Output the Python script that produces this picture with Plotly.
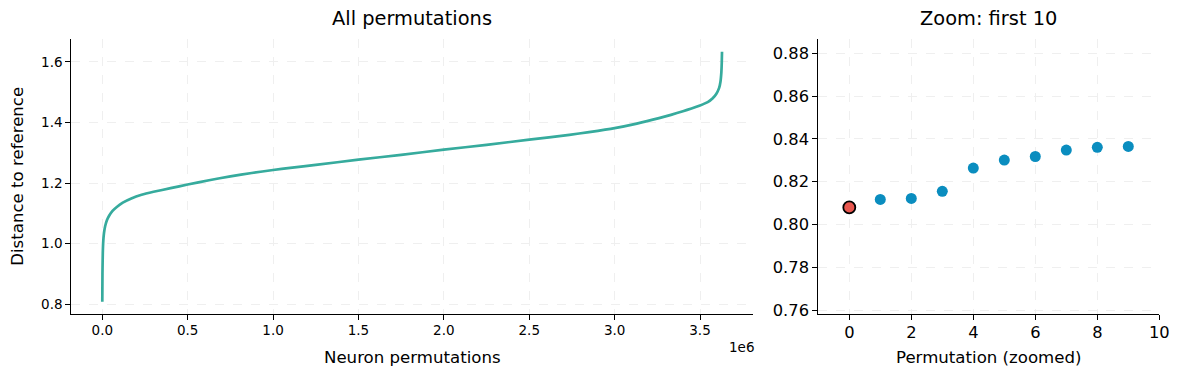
import plotly.graph_objects as go

# ---- data ----
perm_rank = [0, 1000, 3000, 6000, 10000, 17000, 27000, 40000, 60000, 85000, 120000,
             170000, 230000, 300000, 400000, 500000, 625000, 750000, 875000, 1000000,
             1100000, 1250000, 1500000, 1750000, 2000000, 2250000, 2500000, 2735000,
             2850000, 3000000, 3130000, 3260000, 3330000, 3400000, 3450000, 3500000,
             3545000, 3573000, 3595000, 3612000, 3620000, 3625000, 3627500, 3628799]
perm_dist = [0.808, 0.90, 0.97, 1.01, 1.035, 1.058, 1.077, 1.092, 1.108, 1.121, 1.135,
             1.149, 1.161, 1.171, 1.183, 1.195, 1.209, 1.222, 1.233, 1.243,
             1.2497, 1.260, 1.277, 1.293, 1.310, 1.326, 1.343, 1.359,
             1.368, 1.381, 1.396, 1.414, 1.425, 1.437, 1.446, 1.456,
             1.467, 1.479, 1.494, 1.514, 1.535, 1.565, 1.600, 1.633]

zoom_idx = [0, 1, 2, 3, 4, 5, 6, 7, 8, 9]
zoom_dist = [0.808, 0.8117, 0.8122, 0.8155, 0.8264, 0.8301, 0.8318, 0.8348, 0.8361, 0.8365]

left_xticks = [0, 500000, 1000000, 1500000, 2000000, 2500000, 3000000, 3500000]
left_xtick_text = ["0.0", "0.5", "1.0", "1.5", "2.0", "2.5", "3.0", "3.5"]
left_yticks = [0.8, 1.0, 1.2, 1.4, 1.6]
right_xticks = [0, 2, 4, 6, 8, 10]
right_yticks = [0.76, 0.78, 0.80, 0.82, 0.84, 0.86, 0.88]

LINE_C = "#36ab9d"
BLUE_C = "#0a8dbf"
RED_C = "#e8574f"
FONT = "DejaVu Sans"

# page is offset by the default 8px body margin
OFF = 8
W, H = 1178 - 2 * OFF, 378 - 2 * OFF
L_X0, L_X1 = 71.3, 753.0
R_X0, R_X1 = 818.3, 1159.3
Y_TOP, Y_BOT = 39.3, 314.3

def fx(px):
    return (px - OFF) / W

def fy(py):
    return 1 - (py - OFF) / H

fig = go.Figure()
fig.add_trace(go.Scatter(x=perm_rank, y=perm_dist, mode="lines",
                         line=dict(color=LINE_C, width=2.7, shape="spline", smoothing=0.5),
                         xaxis="x", yaxis="y", showlegend=False))
fig.add_trace(go.Scatter(x=zoom_idx[1:], y=zoom_dist[1:], mode="markers",
                         marker=dict(color=BLUE_C, size=11, line=dict(width=0)),
                         xaxis="x2", yaxis="y2", showlegend=False))
fig.add_trace(go.Scatter(x=zoom_idx[:1], y=zoom_dist[:1], mode="markers",
                         marker=dict(color=RED_C, size=12, line=dict(width=1.8, color="black")),
                         xaxis="x2", yaxis="y2", showlegend=False))

axis_common = dict(showline=True, linecolor="black", linewidth=1, ticks="outside",
                   ticklen=5, tickwidth=1, tickcolor="black", zeroline=False,
                   showgrid=True, gridcolor="#efefef", gridwidth=0.8, griddash="dash",
                   mirror=False, automargin=False)

n0 = min(perm_rank); n1 = max(perm_rank)
pad = 0.05 * (n1 - n0)
d0 = min(perm_dist); d1 = max(perm_dist)
dpad = 0.05 * (d1 - d0)

fig.update_layout(
    width=W, height=H,
    margin=dict(l=0, r=0, t=0, b=0),
    paper_bgcolor="white", plot_bgcolor="white",
    font=dict(family=FONT, color="black"),
    xaxis=dict(domain=[fx(L_X0), fx(L_X1)], range=[n0 - pad, n1 + pad],
               tickvals=left_xticks, ticktext=left_xtick_text,
               tickfont=dict(size=13.5), anchor="y", ticklabelstandoff=-2, **axis_common),
    yaxis=dict(domain=[fy(Y_BOT), fy(Y_TOP)], range=[d0 - dpad, d1 + dpad],
               tickvals=left_yticks, tickformat=".1f",
               tickfont=dict(size=13.5), anchor="x", **axis_common),
    xaxis2=dict(domain=[fx(R_X0), fx(R_X1)], range=[-1, 10],
                tickvals=right_xticks, tickfont=dict(size=16.3), anchor="y2",
                ticklabelstandoff=-2, **axis_common),
    yaxis2=dict(domain=[fy(Y_BOT), fy(Y_TOP)], range=[0.758, 0.8866],
                tickvals=right_yticks, tickformat=".2f",
                tickfont=dict(size=16.3), anchor="x2", **axis_common),
    annotations=[
        dict(text="All permutations", x=fx((L_X0 + L_X1) / 2), y=fy(19),
             xref="paper", yref="paper", showarrow=False, font=dict(size=19.4),
             xanchor="center", yanchor="middle"),
        dict(text="Zoom: first 10", x=fx((R_X0 + R_X1) / 2), y=fy(19),
             xref="paper", yref="paper", showarrow=False, font=dict(size=19.4),
             xanchor="center", yanchor="middle"),
        dict(text="Neuron permutations", x=fx((L_X0 + L_X1) / 2), y=fy(357),
             xref="paper", yref="paper", showarrow=False, font=dict(size=16.6),
             xanchor="center", yanchor="middle"),
        dict(text="Permutation (zoomed)", x=fx((R_X0 + R_X1) / 2), y=fy(357),
             xref="paper", yref="paper", showarrow=False, font=dict(size=16.6),
             xanchor="center", yanchor="middle"),
        dict(text="Distance to reference", x=fx(18), y=fy((Y_TOP + Y_BOT) / 2),
             xref="paper", yref="paper", showarrow=False, font=dict(size=16.6),
             textangle=-90, xanchor="center", yanchor="middle"),
        dict(text="1e6", x=fx(L_X1 + 3), y=fy(347),
             xref="paper", yref="paper", showarrow=False, font=dict(size=13.5),
             xanchor="right", yanchor="middle"),
    ],
)

fig.write_html("out.html")
